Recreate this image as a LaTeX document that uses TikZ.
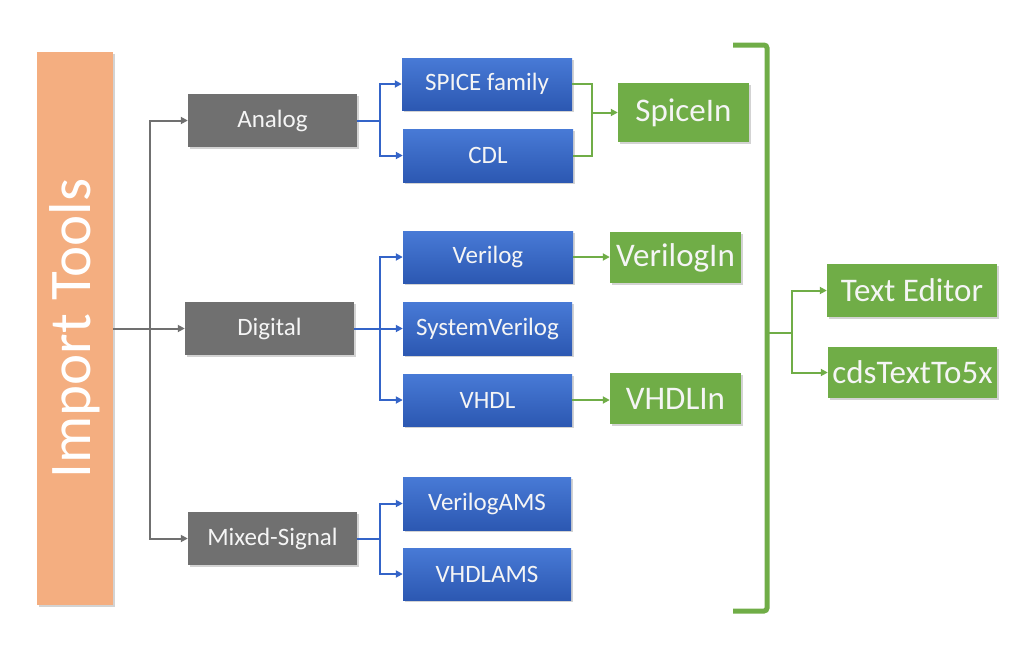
\documentclass[tikz,border=0pt]{standalone}
\usepackage{fontspec}
\setmainfont{Carlito}
\usetikzlibrary{arrows.meta,shadows}
\definecolor{gOrange}{RGB}{244,174,128}
\definecolor{gGray}{RGB}{112,112,112}
\definecolor{gGreen}{RGB}{112,173,71}
\definecolor{gBlueT}{RGB}{72,122,214}
\definecolor{gBlueB}{RGB}{44,88,178}
\definecolor{gLineBlue}{RGB}{52,100,200}
\definecolor{gTxt}{RGB}{245,245,245}
\tikzset{
  box/.style={rectangle, inner sep=0pt, text=gTxt, align=center,
    drop shadow={opacity=0.35, shadow xshift=1.5pt, shadow yshift=-2pt}},
  graybox/.style={box, fill=gGray, font=\fontsize{25}{28}\selectfont},
  bluebox/.style={box, top color=gBlueT, bottom color=gBlueB, font=\fontsize{25}{28}\selectfont},
  greenbox/.style={box, fill=gGreen, font=\fontsize{33}{36}\selectfont},
  sz/.style n args={2}{minimum width=#1pt, minimum height=#2pt},
  grayline/.style={draw=gGray, line width=2pt, -{Triangle[length=7pt,width=7pt]}},
  blueline/.style={draw=gLineBlue, line width=2pt, -{Triangle[length=7pt,width=7pt]}},
  greenline/.style={draw=gGreen, line width=2pt, -{Triangle[length=7pt,width=7pt]}},
  greenplain/.style={draw=gGreen, line width=2pt},
}
\begin{document}
\begin{tikzpicture}[x=1pt,y=-1pt]
\useasboundingbox (0,0) rectangle (1025,659);
% Import Tools
\node[box, fill=gOrange, sz={76}{553}] (imp) at (75,328.5) {};
\node[rotate=90, text=white, font=\fontsize{59}{62}\selectfont] (impt) at (imp.center) {Import Tools};
% gray category boxes
\node[graybox, sz={169}{53}] (analog) at (272.5,120.5) {Analog};
\node[graybox, sz={169}{53}] (digital) at (269.5,328.5) {Digital};
\node[graybox, sz={169}{53}] (mixed) at (272.5,538.5) {Mixed-Signal};
% blue boxes
\node[bluebox, sz={170}{52}] (spice) at (487,84) {SPICE family};
\node[bluebox, sz={170}{53}] (cdl) at (488,155.5) {CDL};
\node[bluebox, sz={170}{52}] (verilog) at (488,257) {Verilog};
\node[bluebox, sz={169}{53}] (sysv) at (487.5,328.5) {SystemVerilog};
\node[bluebox, sz={169}{52}] (vhdl) at (487.5,400) {VHDL};
\node[bluebox, sz={168}{53}] (vams) at (487,503.5) {VerilogAMS};
\node[bluebox, sz={168}{52}] (vhdlams) at (487,574) {VHDLAMS};
% green boxes
\node[greenbox, sz={131}{59}] (spicein) at (683.5,112.5) {SpiceIn};
\node[greenbox, sz={131}{51}] (verilogin) at (675.5,257.5) {VerilogIn};
\node[greenbox, sz={131}{51}] (vhdlin) at (675.5,398.5) {VHDLIn};
\node[greenbox, sz={170}{53}] (texted) at (912,290.5) {Text Editor};
\node[greenbox, sz={169}{51}] (cds) at (912.5,372.5) {cdsTextTo5x};
% gray connectors
\coordinate (gj) at (150,328.5);
\draw[grayline] (imp.east |- digital.west) -- (digital.west);
\draw[grayline] (gj) |- (analog.west);
\draw[grayline] (gj) |- (mixed.west);
% blue connectors
\coordinate (bj1) at (380,120.5);
\draw[draw=gLineBlue, line width=2pt] (analog.east) -- (bj1);
\draw[blueline] (bj1) |- (spice.west);
\draw[blueline] (bj1) |- (cdl.west);
\coordinate (bj2) at (380,328.5);
\draw[blueline] (digital.east) -- (sysv.west);
\draw[blueline] (bj2) |- (verilog.west);
\draw[blueline] (bj2) |- (vhdl.west);
\coordinate (bj3) at (380,538.5);
\draw[draw=gLineBlue, line width=2pt] (mixed.east) -- (bj3);
\draw[blueline] (bj3) |- (vams.west);
\draw[blueline] (bj3) |- (vhdlams.west);
% green connectors
\coordinate (gn1) at (592,112.5);
\draw[greenplain] (spice.east) -| (gn1);
\draw[greenplain] (cdl.east) -| (gn1);
\draw[greenline] (gn1) -- (spicein.west);
\draw[greenline] (verilog.east) -- (verilog.east -| verilogin.west);
\draw[greenline] (vhdl.east) -- (vhdl.east -| vhdlin.west);
% bracket
\coordinate (brt) at (733,45);
\coordinate (brb) at (733,611);
\draw[draw=gGreen, line width=5pt, rounded corners=3pt] (brt) -- (767,45) -- (767,611) -- (brb);
\coordinate (brm) at (767,333);
\coordinate (gn2) at (792,333);
\draw[greenplain] (brm) -- (gn2);
\draw[greenline] (gn2) |- (texted.west);
\draw[greenline] (gn2) |- (cds.west);
\end{tikzpicture}
\end{document}
